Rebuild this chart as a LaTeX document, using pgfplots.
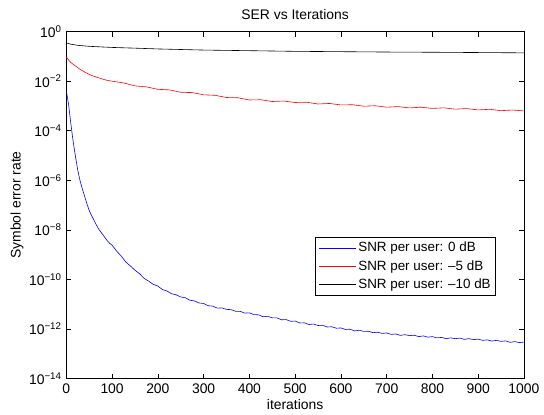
\documentclass[border={6bp 0bp 0bp 5bp}]{standalone}
\usepackage{fontspec}
\setmainfont{Liberation Sans}
\usepackage{pgfplots}
\pgfplotsset{compat=1.18}
\definecolor{serblue}{RGB}{0,0,255}
\definecolor{serred}{RGB}{255,0,0}

\begin{document}
\fontsize{14}{16}\selectfont
\begin{tikzpicture}
\begin{axis}[
  width=459bp,height=348bp,scale only axis,
  ymode=log,
  xmin=0,xmax=1000,ymin=1e-14,ymax=1,
  xtick={0,100,...,1000},
  ytick={1,1e-2,1e-4,1e-6,1e-8,1e-10,1e-12,1e-14},
  yticklabels={10\textsuperscript{0},10\textsuperscript{−2},10\textsuperscript{−4},10\textsuperscript{−6},10\textsuperscript{−8},10\textsuperscript{−10},10\textsuperscript{−12},10\textsuperscript{−14}},
  yminorticks=false,
  tick align=inside,major tick length=5bp,
  tick style={black,line width=0.6bp},
  axis line style={line width=0.7bp},
  /pgf/number format/assume math mode=true,
  /pgf/number format/1000 sep={},
  title={SER vs Iterations},
  title style={yshift=1bp},
  xlabel={iterations},
  xlabel style={yshift=3bp},
  ylabel={Symbol error rate},
  ylabel style={yshift=-4bp},
  legend cell align=left,
  legend style={at={(0.939,0.2385)},anchor=south east,draw=black,line width=0.6bp,
    font=\fontsize{13.5}{15}\selectfont,row sep=2.5bp,inner sep=3bp},
  legend image code/.code={\draw[#1,line width=0.8bp] (0bp,0bp) -- (37bp,0bp);},
]
\addplot[serblue,line width=0.6bp] coordinates {
(0,3.98e-3)(5,1.12e-3)(10,1.78e-4)(15,3.55e-5)(20,8.91e-6)(25,2.51e-6)(30,9.55e-7)
(35,4.47e-7)(40,2.24e-7)(45,1.12e-7)(50,6.03e-8)(55,3.80e-8)(60,2.51e-8)(65,1.66e-8)
(70,1.12e-8)(75,8.32e-9)(80,6.31e-9)(85,4.68e-9)(90,3.55e-9)(95,2.82e-9)
(100,2.40e-9)(110,1.38e-9)(120,8.71e-10)(130,5.01e-10)(140,3.47e-10)(150,2.34e-10)
(160,1.70e-10)(170,1.10e-10)(180,8.51e-11)(190,6.31e-11)(200,5.37e-11)(210,3.89e-11)
(220,3.39e-11)(230,2.63e-11)(240,2.40e-11)(250,1.95e-11)(260,1.82e-11)(270,1.45e-11)
(280,1.35e-11)(290,1.12e-11)(300,1.07e-11)(310,8.71e-12)(320,8.32e-12)(330,6.92e-12)
(340,7.08e-12)(350,6.17e-12)(360,6.03e-12)(370,5.13e-12)(380,5.13e-12)(390,4.37e-12)
(400,4.47e-12)(410,3.80e-12)(420,3.72e-12)(430,3.09e-12)(440,3.24e-12)(450,2.82e-12)
(460,2.82e-12)(470,2.34e-12)(480,2.40e-12)(490,2.04e-12)(500,2.09e-12)(510,1.74e-12)
(520,1.78e-12)(530,1.51e-12)(540,1.58e-12)(550,1.38e-12)(560,1.41e-12)(570,1.20e-12)
(580,1.23e-12)(590,1.07e-12)(600,1.10e-12)(610,9.55e-13)(620,9.77e-13)(630,8.32e-13)
(640,8.91e-13)(650,7.94e-13)(660,8.13e-13)(670,7.08e-13)(680,7.41e-13)(690,6.61e-13)
(700,6.92e-13)(710,6.03e-13)(720,6.31e-13)(730,5.50e-13)(740,5.89e-13)(750,5.37e-13)
(760,5.62e-13)(770,4.90e-13)(780,5.25e-13)(790,4.68e-13)(800,4.90e-13)(810,4.37e-13)
(820,4.57e-13)(830,4.07e-13)(840,4.37e-13)(850,4.07e-13)(860,4.27e-13)(870,3.80e-13)
(880,4.07e-13)(890,3.72e-13)(900,3.89e-13)(910,3.47e-13)(920,3.63e-13)(930,3.24e-13)
(940,3.47e-13)(950,3.16e-13)(960,3.31e-13)(970,2.88e-13)(980,3.09e-13)(990,2.82e-13)
(1000,2.95e-13)};
\addlegendentry{SNR per user: 0 dB}
\addplot[serred,line width=0.6bp] coordinates {
(0,0.0955)(5,0.0708)(10,0.0562)(20,0.0407)(30,0.0302)(40,0.0234)(50,0.0186)
(60,0.0158)(70,0.0138)(80,0.0120)(90,0.0107)(100,0.0100)(125,8.51e-3)(150,6.46e-3)
(175,5.89e-3)(200,4.68e-3)(225,4.47e-3)(250,3.55e-3)(275,3.47e-3)(300,2.82e-3)
(325,2.69e-3)(350,2.19e-3)(375,2.14e-3)(400,1.74e-3)(425,1.78e-3)(450,1.51e-3)
(475,1.58e-3)(500,1.38e-3)(525,1.41e-3)(550,1.20e-3)(575,1.26e-3)(600,1.10e-3)
(625,1.12e-3)(650,9.77e-4)(675,1.02e-3)(700,8.91e-4)(725,9.44e-4)(750,8.32e-4)
(775,8.91e-4)(800,7.94e-4)(825,8.41e-4)(850,7.41e-4)(875,7.85e-4)(900,6.92e-4)
(925,7.33e-4)(950,6.46e-4)(975,6.84e-4)(1000,6.31e-4)};
\addlegendentry{SNR per user: –5 dB}
\addplot[black,line width=0.6bp] coordinates {
(0,0.35)(10,0.31)(25,0.28)(50,0.255)(100,0.23)(150,0.215)(200,0.20)(300,0.18)
(400,0.17)(500,0.16)(600,0.155)(700,0.15)(800,0.147)(900,0.143)(1000,0.139)};
\addlegendentry{SNR per user: –10 dB}
\end{axis}
\end{tikzpicture}
\end{document}
